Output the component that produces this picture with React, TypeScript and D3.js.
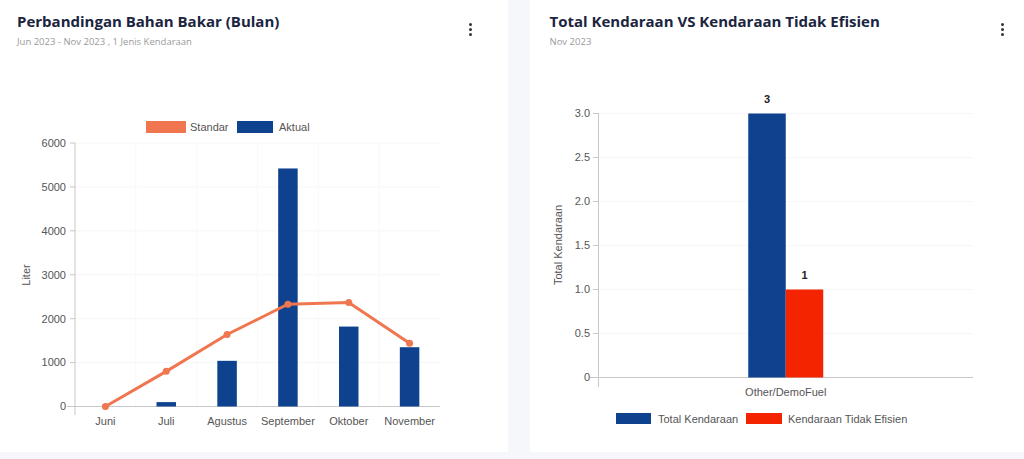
import React from "react";
import * as d3 from "d3";

const months = ["Juni", "Juli", "Agustus", "September", "Oktober", "November"];
const standar = [0, 800, 1640, 2330, 2370, 1440];
const aktual = [0, 100, 1040, 5420, 1820, 1350];
const leftTicks = [0, 1000, 2000, 3000, 4000, 5000, 6000];

const fuelCategories = ["Other/DemoFuel"];
const totalKendaraan = [3];
const tidakEfisien = [1];
const rightTicks = [0, 0.5, 1.0, 1.5, 2.0, 2.5, 3.0];

const BLUE = "#0e428e";
const ORANGE = "#f07650";
const RED = "#f42400";
const AXIS = "#c8c8c8";
const TICKTXT = "#555";
const FONT = "Liberation Sans, Arial, sans-serif";
const TITLEFONT = "'Open Sans', sans-serif";
const FS = 11;

function Menu({ x }: { x: number }) {
  return (
    <g fill="#333">
      {[24.5, 29.5, 34.5].map((y) => (
        <circle key={y} cx={x} cy={y} r={1.5} />
      ))}
    </g>
  );
}

function LeftChart() {
  const x = d3.scaleBand<string>().domain(months).range([75, 440]);
  const y = d3.scaleLinear().domain([0, 6000]).range([406.5, 143]);
  const bw = 19.5;
  const line = d3
    .line<number>()
    .x((_, i) => (x(months[i]) as number) + x.bandwidth() / 2)
    .y((d) => y(d));
  return (
    <g fontFamily={FONT}>
      {leftTicks.slice(1).map((t) => (
        <line key={t} x1={75} x2={440} y1={y(t)} y2={y(t)} stroke="#f6f6f6" />
      ))}
      {months.map((m, i) =>
        i > 0 ? (
          <line key={m} x1={x(m)} x2={x(m)} y1={143} y2={406} stroke="#f8f8f8" />
        ) : null
      )}
      <line x1={75} x2={75} y1={143} y2={415} stroke={AXIS} />
      <line x1={67} x2={440} y1={y(0)} y2={y(0)} stroke={AXIS} />
      {leftTicks.map((t) => (
        <g key={t}>
          <line x1={70} x2={75} y1={y(t)} y2={y(t)} stroke={AXIS} />
          <text x={66} y={y(t)} dy="0.35em" textAnchor="end" fontSize={FS} fill={TICKTXT}>
            {t}
          </text>
        </g>
      ))}
      {months.map((m) => (
        <text
          key={m}
          x={(x(m) as number) + x.bandwidth() / 2}
          y={425}
          textAnchor="middle"
          fontSize={FS}
          fill={TICKTXT}
        >
          {m}
        </text>
      ))}
      <text
        transform={`translate(30,275) rotate(-90)`}
        textAnchor="middle"
        fontSize={FS}
        fill={TICKTXT}
      >
        Liter
      </text>
      {aktual.map((v, i) => (
        <rect
          key={i}
          x={(x(months[i]) as number) + x.bandwidth() / 2 - bw / 2}
          y={y(v)}
          width={bw}
          height={y(0) - y(v)}
          fill={BLUE}
        />
      ))}
      <path d={line(standar) as string} fill="none" stroke={ORANGE} strokeWidth={3} />
      {standar.map((v, i) => (
        <circle
          key={i}
          cx={(x(months[i]) as number) + x.bandwidth() / 2}
          cy={y(v)}
          r={3.5}
          fill={ORANGE}
        />
      ))}
      <rect x={146} y={121} width={40} height={12} fill={ORANGE} />
      <text x={190} y={131} fontSize={FS} fill={TICKTXT}>
        Standar
      </text>
      <rect x={237} y={121} width={36} height={12} fill={BLUE} />
      <text x={279} y={131} fontSize={FS} fill={TICKTXT}>
        Aktual
      </text>
    </g>
  );
}

function RightChart() {
  const x0 = d3.scaleBand<string>().domain(fuelCategories).range([598.5, 973]);
  const y = d3.scaleLinear().domain([0, 3]).range([377.5, 113.5]);
  const bw = 37.5;
  return (
    <g fontFamily={FONT}>
      {rightTicks.slice(1).map((t) => (
        <line key={t} x1={598.5} x2={973} y1={y(t)} y2={y(t)} stroke="#f7f7f7" />
      ))}
      <line x1={598.5} x2={598.5} y1={113} y2={387} stroke={AXIS} />
      <line x1={590} x2={973} y1={y(0)} y2={y(0)} stroke={AXIS} />
      {rightTicks.map((t) => (
        <g key={t}>
          <line x1={593} x2={598.5} y1={y(t)} y2={y(t)} stroke={AXIS} />
          <text x={590} y={y(t)} dy="0.35em" textAnchor="end" fontSize={FS} fill={TICKTXT}>
            {t === 0 ? "0" : t.toFixed(1)}
          </text>
        </g>
      ))}
      {fuelCategories.map((c, i) => {
        const cx = (x0(c) as number) + x0.bandwidth() / 2;
        return (
          <g key={c}>
            <rect x={cx - bw} y={y(totalKendaraan[i])} width={bw} height={y(0) - y(totalKendaraan[i])} fill={BLUE} />
            <rect x={cx} y={y(tidakEfisien[i])} width={bw} height={y(0) - y(tidakEfisien[i])} fill={RED} />
            <text x={cx - bw / 2} y={y(totalKendaraan[i]) - 11} textAnchor="middle" fontSize={FS} fontWeight="bold" fill="#222">
              {totalKendaraan[i]}
            </text>
            <text x={cx + bw / 2} y={y(tidakEfisien[i]) - 11} textAnchor="middle" fontSize={FS} fontWeight="bold" fill="#222">
              {tidakEfisien[i]}
            </text>
            <text x={cx} y={396} textAnchor="middle" fontSize={FS} fill={TICKTXT}>
              {c}
            </text>
          </g>
        );
      })}
      <text
        transform={`translate(562,245) rotate(-90)`}
        textAnchor="middle"
        fontSize={FS}
        fill={TICKTXT}
      >
        Total Kendaraan
      </text>
      <rect x={616} y={413} width={35} height={11} fill={BLUE} />
      <text x={658} y={422.5} fontSize={FS} fill={TICKTXT}>
        Total Kendaraan
      </text>
      <rect x={746} y={413} width={36} height={11} fill={RED} />
      <text x={788} y={422.5} fontSize={FS} fill={TICKTXT}>
        Kendaraan Tidak Efisien
      </text>
    </g>
  );
}

export default function App() {
  return (
    <svg
      width={1024}
      height={459}
      style={{ position: "absolute", left: 0, top: 0, display: "block" }}
    >
      <rect x={0} y={0} width={1024} height={459} fill="#f5f7fa" />
      <rect x={0} y={0} width={508} height={452} fill="#ffffff" />
      <rect x={530} y={0} width={494} height={452} fill="#ffffff" />
      <text x={17} y={26.5} fontFamily={TITLEFONT} fontSize={15} fontWeight="bold" fill="#1b2440">
        Perbandingan Bahan Bakar (Bulan)
      </text>
      <text x={17} y={44.5} fontFamily={TITLEFONT} fontSize={9.5} fill="#9a9a9a">
        Jun 2023 - Nov 2023 , 1 Jenis Kendaraan
      </text>
      <Menu x={470.5} />
      <text x={549.5} y={26.5} fontFamily={TITLEFONT} fontSize={15} fontWeight="bold" fill="#1b2440">
        Total Kendaraan VS Kendaraan Tidak Efisien
      </text>
      <text x={549.5} y={44.5} fontFamily={TITLEFONT} fontSize={9.5} fill="#9a9a9a">
        Nov 2023
      </text>
      <Menu x={1002.5} />
      <LeftChart />
      <RightChart />
    </svg>
  );
}
